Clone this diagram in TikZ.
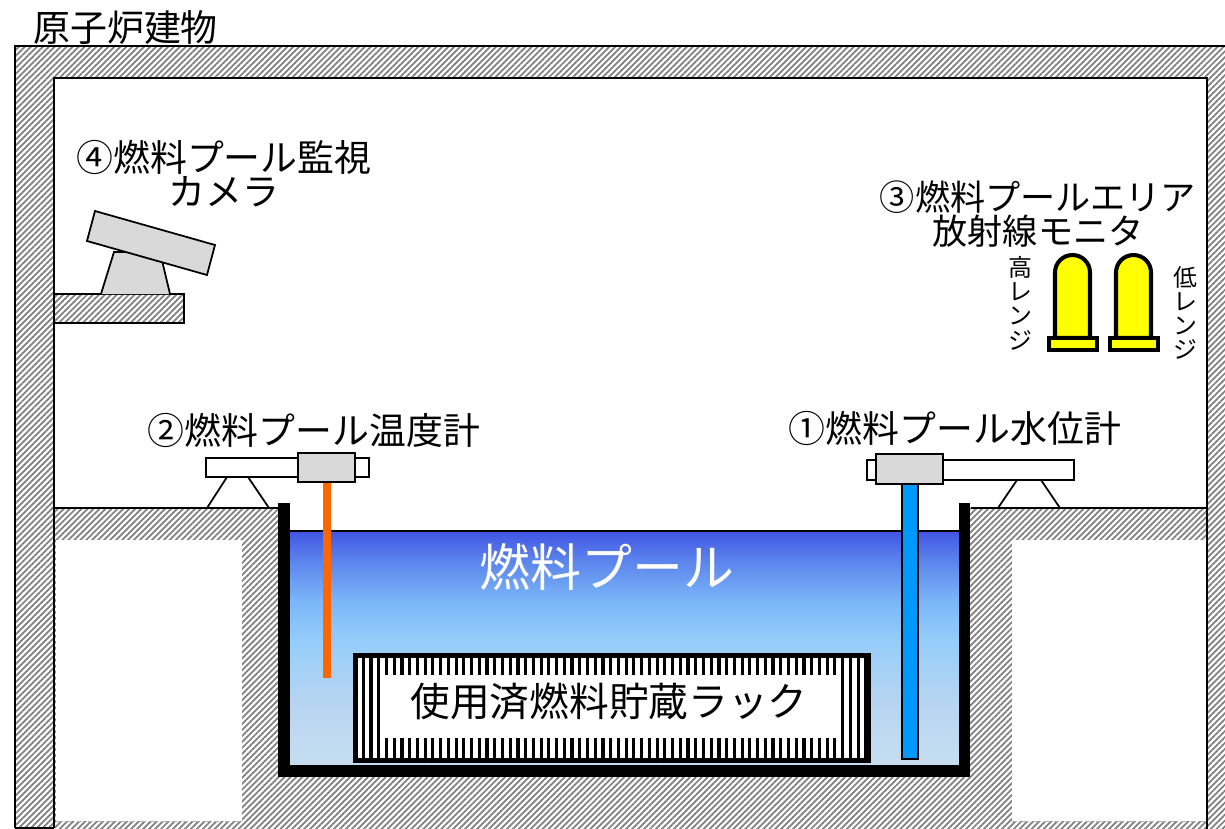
\documentclass[tikz,border=0pt]{standalone}
\usepackage{fontspec}
\newfontfamily\jpfont{Noto Sans CJK JP}
\usepackage{tikz}
\usetikzlibrary{patterns.meta}

\definecolor{waterTop}{RGB}{66,86,228}
\definecolor{waterUp}{RGB}{92,132,236}
\definecolor{waterMid}{RGB}{122,182,248}
\definecolor{waterSky}{RGB}{148,205,250}
\definecolor{waterPale}{RGB}{182,213,242}
\definecolor{waterLow}{RGB}{200,222,240}
\definecolor{boxgray}{RGB}{217,217,217}
\definecolor{rodorange}{RGB}{255,102,0}
\definecolor{rodblue}{RGB}{0,153,255}
\definecolor{lampyellow}{RGB}{255,255,0}

% water: deep blue at the surface, pale at the floor
\pgfdeclareverticalshading{poolwater}{100bp}{%
  color(0bp)=(waterLow); color(25bp)=(waterLow); color(39.5bp)=(waterPale);
  color(52.5bp)=(waterSky); color(60.5bp)=(waterMid); color(69bp)=(waterUp);
  color(75bp)=(waterTop); color(100bp)=(waterTop)}

\tikzset{
  concrete/.style={pattern={Lines[angle=45,distance=2.4pt,line width=1pt]},pattern color=black!50},
  tagtext/.style={inner sep=0pt, align=center, font=\jpfont\fontsize{21pt}{19.4pt}\selectfont},
  gaugebox/.style={draw, line width=1.2pt, fill=boxgray}
}

\begin{document}
\begin{tikzpicture}[x=0.02cm,y=-0.02cm]
\useasboundingbox (0,0) rectangle (1225,829);
\clip (0,0) rectangle (1225,829);
\fill[white] (0,0) rectangle (1225,829);

% Roof slab and outer walls
\path[concrete] (15,828) -- (15,46) -- (1240,46) -- (1240,840) -- (1207,840)
  -- (1207,78) -- (54,78) -- (54,828) -- cycle;
\draw[line width=1.2pt] (15,828) -- (15,46) -- (1240,46);
\draw[line width=1.2pt] (54,828) -- (54,78) -- (1207,78) -- (1207,840);
\draw[line width=1.2pt] (15,828) -- (54,828);
\node[tagtext, anchor=west] (bldg) at (33,28) {原子炉建物};

% Floor slab
\path[concrete] (55,508) rectangle (1206,840);
\draw[line width=0.9pt] (54,508) -- (278,508);
\draw[line width=0.9pt] (971,508) -- (1207,508);
\fill[white] (56,540) rectangle (242,821);
\fill[white] (1012,540) rectangle (1206,821);
\draw[gray!60, dashed, line width=0.5pt] (56,821) -- (242,821);
\draw[gray!60, dashed, line width=0.5pt] (1012,821) -- (1206,821);

% Pool water
\fill[white] (284,500) rectangle (964,532);
\shade[shading=poolwater] (284,532) rectangle (964,770);
\draw[line width=1.1pt] (284,531) -- (964,531);
\node[tagtext, text=white, font=\jpfont\fontsize{29pt}{29pt}\selectfont] (pool) at (607,567) {燃料プール};

% Pool liner
\draw[line width=6.8pt] (284,503) -- (284,771) -- (964.5,771) -- (964.5,503);

% Fuel rack
\fill[white] (353,653) rectangle (871,763);
\fill[pattern={Lines[angle=90,distance=4.4pt,line width=1.8pt]}, pattern color=black] (353,653) rectangle (871,763);
\draw[line width=2.8pt] (355.5,655.5) rectangle (868.5,760.5);
\fill[white] (380,675) rectangle (838,738);
\node[tagtext, font=\jpfont\fontsize{22.6pt}{22.6pt}\selectfont] (rack) at (609,702) {使用済燃料貯蔵ラック};

% Temperature gauge
\draw[line width=1pt] (227,477) -- (207,508);
\draw[line width=1pt] (248,477) -- (269,508);
\draw[fill=white, line width=1pt] (206,458) rectangle (369,477);
\fill[rodorange] (323,481) rectangle (331,678);
\draw[gaugebox] (298,453) rectangle (355,482);
\node[tagtext] (temp) at (314,430) {②燃料プール温度計};

% Water level gauge
\draw[line width=1pt] (1017,480) -- (998,508);
\draw[line width=1pt] (1041,480) -- (1060,508);
\draw[fill=white, line width=1pt] (867,460) rectangle (1074,480);
\draw[fill=rodblue, line width=1pt] (902,484) rectangle (918,759);
\draw[gaugebox] (876,454) rectangle (943,484);
\node[tagtext] (level) at (955,428) {①燃料プール水位計};

% Camera on wall bracket
\path[concrete] (55,294) rectangle (184,323);
\draw[line width=1pt] (54,294) -- (184,294) -- (184,323) -- (54,323);
\draw[gaugebox, line width=1pt] (101,294) -- (114,252) -- (160,252) -- (170,294);
\draw[gaugebox, line width=1pt] (95,211) -- (215,245) -- (207,275) -- (87,241) -- cycle;
\node[tagtext] (cam) at (224,174) {④燃料プール監視\\カメラ};

% Area radiation monitors
\foreach \x in {1055,1116} {
  \draw[line width=2.3pt, fill=lampyellow] (\x,338) -- (\x,272.5)
    arc[start angle=180, end angle=360, radius=17.5] -- (\x+35,338) -- cycle;
  \draw[line width=2.3pt, fill=lampyellow] (\x-6,338) rectangle (\x+42,350);
}
\node[tagtext, font=\jpfont\fontsize{20pt}{19.8pt}\selectfont] (mon) at (1038,214) {③燃料プールエリア\\放射線モニタ};
\node[tagtext, font=\jpfont\fontsize{13.6pt}{13.8pt}\selectfont] (hi) at (1020,303) {高\\レ\\ン\\ジ};
\node[tagtext, font=\jpfont\fontsize{13.6pt}{13.8pt}\selectfont] (lo) at (1185,313) {低\\レ\\ン\\ジ};

\end{tikzpicture}
\end{document}
